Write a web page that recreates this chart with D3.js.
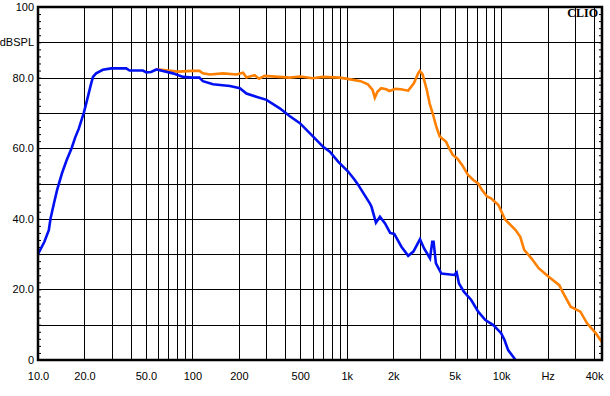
<!DOCTYPE html>
<html>
<head>
<meta charset="utf-8">
<script src="https://cdn.jsdelivr.net/npm/d3@7"></script>
<style>
  body { margin: 0; background: #fff; }
  svg { display: block; }
  text { font-family: Arial, "Liberation Sans", sans-serif; font-size: 11px; fill: #000; }
</style>
</head>
<body>
<script>
// response curves (Hz, dBSPL)
var blueFreq = [10, 11, 11.75, 12.05, 12.7, 13.3, 14.3, 15.3, 16.5, 17.4, 18.4, 19.8, 20.8, 22, 22.7, 23.8, 26.3, 29.8,
    37.3, 39.2, 47.8, 50.3, 54, 58.5, 64.4, 74.8, 87.1, 100, 111, 117, 136, 175, 203, 224, 259, 302, 368, 426,
    497, 606, 703, 777, 879, 1020, 1127, 1186, 1410, 1446, 1545, 1640, 1770, 1910, 2030, 2260, 2500, 2700,
    2980, 3170, 3460, 3580, 3650, 3780, 4100, 4970, 5150, 5330, 5750, 6400, 7100, 7900, 8900, 10000, 10500,
    11100, 12400];
var blueDb = [30, 33.5, 36.8, 40, 44.5, 48.2, 52.9, 56.5, 60, 63, 65.6, 70, 73.7, 78, 80.2, 81.2, 82.2, 82.6,
    82.6, 82.0, 82.0, 81.5, 81.6, 82.3, 81.9, 81.2, 80.2, 80.0, 80.0, 79.0, 78.1, 77.6, 77.0, 75.5, 74.6, 73.7, 71.3, 69.1,
    67.1, 63.3, 60.4, 59, 56.2, 53.4, 51, 49.6, 44.4, 43.4, 38.9, 40.6, 38.7, 36.0, 35.7, 32.1, 29.5, 30.7,
    34.2, 31.6, 28.8, 33.5, 33.5, 27.4, 24.5, 24.1, 24.8, 21.7, 19.3, 17, 13.7, 11.3, 9.9, 7.6, 5.7,
    2.8, 0];

var orangeFreq = [58.5, 61, 80.9, 100, 111, 117, 130, 158, 193, 213, 224, 253, 270, 294, 427, 500, 600, 700, 900,
    1060, 1230, 1370, 1470, 1520, 1580, 1670, 1800, 1890, 2070, 2240, 2500, 2720, 2900, 2970, 3100, 3300,
    3440, 3600, 3800, 4000, 4400, 4600, 4860, 5200, 5600, 6100, 6600, 7100, 7500, 8100, 8600, 9600, 10600,
    12400, 13300, 14100, 15700, 17500, 20300, 23800, 25000, 28200, 32600, 36000, 41000, 45000];
var orangeDb = [82.3, 82.3, 81.7, 81.9, 81.9, 81.2, 80.9, 81.2, 80.9, 81.4, 80.0, 80.7, 79.7, 80.5, 80.0, 80.3, 79.8, 80.2, 80.0,
    79.5, 79.0, 78.1, 76.5, 74.3, 76.0, 77.0, 76.7, 76.2, 76.8, 76.7, 76.3, 78.4, 81.2, 81.9, 80.9, 76.5,
    72.7, 69.9, 66.1, 63.3, 61.8, 60.0, 58.1, 57.1, 55.2, 52.4, 51.0, 50.0, 48.2, 46.3, 45.8, 43.9, 39.8,
    36.8, 34.9, 31.2, 28.8, 26.0, 23.6, 21.2, 19.3, 15.1, 13.7, 10.4, 7.6, 5.0];

// axis labels
var xTickValues = [10, 20, 50, 100, 200, 500, 1000, 2000, 5000, 10000, 20000, 40000];
var xTickLabels = ["10.0", "20.0", "50.0", "100", "200", "500", "1k", "2k", "5k", "10k", "Hz", "40k"];
var yTickValues = [0, 20, 40, 60, 80, 90, 100];
var yTickLabels = ["0", "20.0", "40.0", "60.0", "80.0", "dBSPL", "100"];

window.onload = drawChart();

function drawChart(){

    var width = 610,
        height = 396;
    var plotLeft = 38, plotRight = 602, plotTop = 7, plotBottom = 360;

    var svg = d3.select("body")
        .append("svg")
        .attr("width", width)
        .attr("height", height);

    var x = d3.scaleLog().domain([10, 45000]).range([plotLeft, plotRight]);
    var y = d3.scaleLinear().domain([0, 100]).range([plotBottom, plotTop]);

    // vertical grid: every 1..9 multiple per decade
    var gridX = [];
    [10, 100, 1000, 10000].forEach(function(d){
        for (var k = 1; k < 10; k++) if (d * k <= 45000) gridX.push(d * k);
    });

    svg.append("g")
        .selectAll("line")
        .data(gridX)
        .enter().append("line")
        .attr("x1", function(d){ return Math.round(x(d)) + 0.5; })
        .attr("x2", function(d){ return Math.round(x(d)) + 0.5; })
        .attr("y1", plotTop)
        .attr("y2", plotBottom)
        .attr("stroke", "#000")
        .attr("stroke-width", 1);

    svg.append("g")
        .selectAll("line")
        .data(d3.range(10, 100, 10))
        .enter().append("line")
        .attr("x1", plotLeft)
        .attr("x2", plotRight)
        .attr("y1", function(d){ return Math.round(y(d)) + 0.5; })
        .attr("y2", function(d){ return Math.round(y(d)) + 0.5; })
        .attr("stroke", "#000")
        .attr("stroke-width", 1);

    // small inner ticks every 2 dB on both sides
    var minor = d3.range(2, 100, 2);
    var tl = svg.append("g")
        .attr("transform", "translate(" + plotLeft + ",0)")
        .call(d3.axisRight(y).tickValues(minor).tickSize(3).tickFormat(""));
    tl.select(".domain").remove();
    var tr = svg.append("g")
        .attr("transform", "translate(" + plotRight + ",0)")
        .call(d3.axisLeft(y).tickValues(minor).tickSize(3).tickFormat(""));
    tr.select(".domain").remove();

    // curves
    var line = d3.line()
        .x(function(d){ return x(d[0]); })
        .y(function(d){ return y(d[1]); });

    svg.append("path")
        .datum(d3.zip(orangeFreq, orangeDb))
        .attr("fill", "none")
        .attr("stroke", "#ff8000")
        .attr("stroke-width", 2.6)
        .attr("d", line);

    svg.append("path")
        .datum(d3.zip(blueFreq, blueDb))
        .attr("fill", "none")
        .attr("stroke", "#0010f0")
        .attr("stroke-width", 2.6)
        .attr("d", line);

    // frame
    svg.append("rect")
        .attr("x", plotLeft)
        .attr("y", plotTop)
        .attr("width", plotRight - plotLeft)
        .attr("height", plotBottom - plotTop)
        .attr("fill", "none")
        .attr("stroke", "#000")
        .attr("stroke-width", 2.5);

    // labels via axes
    var xAxis = svg.append("g")
        .attr("transform", "translate(0," + plotBottom + ")")
        .call(d3.axisBottom(x).tickValues(xTickValues).tickSize(0).tickPadding(12)
            .tickFormat(function(d, i){ return xTickLabels[i]; }));
    xAxis.select(".domain").remove();
    xAxis.selectAll("text").style("font-size", "11px").attr("fill", "#000")
        .style("font-family", "Arial, 'Liberation Sans', sans-serif");

    var yAxis = svg.append("g")
        .attr("transform", "translate(" + plotLeft + ",0)")
        .call(d3.axisLeft(y).tickValues(yTickValues).tickSize(0).tickPadding(4)
            .tickFormat(function(d, i){ return yTickLabels[i]; }));
    yAxis.select(".domain").remove();
    yAxis.selectAll("text").style("font-size", "11px").attr("fill", "#000")
        .style("font-family", "Arial, 'Liberation Sans', sans-serif");

    svg.append("text")
        .attr("x", 598)
        .attr("y", 17)
        .attr("text-anchor", "end")
        .style("font-family", "'Liberation Serif', 'Times New Roman', serif")
        .style("font-weight", "bold")
        .style("font-size", "12px")
        .text("CLIO");
}
</script>
</body>
</html>
